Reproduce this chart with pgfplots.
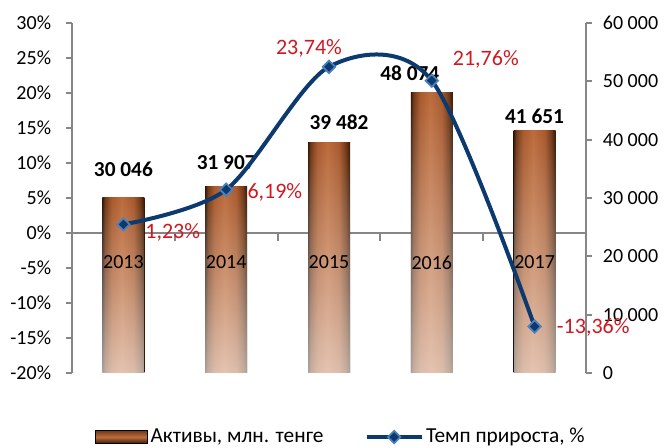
\documentclass[border=0pt]{standalone}
\usepackage{fontspec}
\setmainfont{Carlito}
\usepackage{pgfplots}
\pgfplotsset{compat=1.18}
\usepackage{pgfplotstable}
\usetikzlibrary{fadings}
\definecolor{axisgray}{RGB}{134,134,134}
\definecolor{navy}{RGB}{12,58,110}
\definecolor{mblue}{RGB}{79,129,189}
\definecolor{lblred}{RGB}{208,24,32}
\definecolor{bdk}{RGB}{50,22,8}
\definecolor{bbr}{RGB}{112,56,22}
\definecolor{bcu}{RGB}{168,90,46}
\definecolor{bcl}{RGB}{188,108,60}
\pgfdeclarehorizontalshading{barshade}{100bp}{color(0bp)=(bdk); color(25bp)=(bdk); color(28bp)=(bbr); color(36bp)=(bcu); color(48bp)=(bcl); color(62bp)=(bcu); color(70bp)=(bbr); color(75bp)=(bdk); color(100bp)=(bdk)}
\tikzfading[name=barfade, top color=transparent!100, bottom color=transparent!40]
\pgfplotsset{/pgf/number format/assume math mode=true, /pgf/number format/1000 sep={\ }}
\pgfplotsset{longline legend/.style={legend image code/.code={\draw[mark repeat=2,mark phase=2,##1] plot coordinates {(0pt,0pt) (20.5pt,0pt) (41pt,0pt)};}}}
\pgfplotsset{
  barsty/.style={ybar, bar width=31.5pt, bar shift=0pt, draw=none, shade, shading=barshade},
  barfd/.style={ybar, bar width=31.5pt, bar shift=0pt, draw=none, fill=white, path fading=barfade},
  barlbl/.style 2 args={nodes near coords={\pgfmathprintnumber{\pgfplotspointmeta}},
    every node near coord/.append style={font=\fontsize{16}{19}\selectfont\bfseries, anchor=center, xshift=#1, yshift=#2, text=black}},
}

\pgfplotstableread{
x y lab dx dy
0 1.23 {1,23\%} 37 -6
1 6.19 {6,19\%} 36.5 -2.25
2 23.74 {23,74\%} -15 13.5
3 21.76 {21,76\%} 40.5 15.75
4 -13.36 {-13,36\%} 44 -0.75
}\rate

\begin{document}
\fontsize{15}{18}\selectfont
\begin{tikzpicture}
\path[use as bounding box] (-54pt,-56.25pt) rectangle (446.25pt,279.75pt);
\begin{axis}[
  at={(0pt,0pt)}, anchor=south west,
  scale only axis, width=385.5pt, height=262.5pt,
  xmin=-0.5, xmax=4.5, ymin=0, ymax=60000,
  axis x line=none, axis y line*=right,
  y axis line style={-, draw=axisgray, line width=1.5pt},
  ytick={0,10000,...,60000}, scaled y ticks=false,
  tick align=outside, major tick length=4.5pt,
  ytick style={draw=axisgray, line width=1.5pt},
  yticklabel style={xshift=3pt},
  extra y ticks={24000}, extra y tick labels={},
  extra y tick style={grid=major, major tick length=0pt, major grid style={draw=axisgray, line width=1.5pt}},
  clip=false,
]
\addplot[barsty, barlbl={0pt}{21pt}] coordinates {(0,30046)};
\addplot[barfd] coordinates {(0,30046)};
\addplot[barsty, barlbl={0pt}{18pt}] coordinates {(1,31907)};
\addplot[barfd] coordinates {(1,31907)};
\addplot[barsty, barlbl={7.5pt}{15pt}] coordinates {(2,39482)};
\addplot[barfd] coordinates {(2,39482)};
\addplot[barsty, barlbl={-16.5pt}{14.25pt}] coordinates {(3,48074)};
\addplot[barfd] coordinates {(3,48074)};
\addplot[barsty, barlbl={0pt}{10.5pt}] coordinates {(4,41651)};
\addplot[barfd] coordinates {(4,41651)};
\end{axis}
\begin{axis}[
  at={(0pt,0pt)}, anchor=south west,
  scale only axis, width=385.5pt, height=262.5pt,
  xmin=-0.5, xmax=4.5, ymin=-20, ymax=30,
  axis y line=left, axis x line=middle,
  x axis line style={draw=none},
  y axis line style={-, draw=axisgray, line width=1.5pt},
  ytick={-20,-15,...,30},
  yticklabel={\pgfmathprintnumber{\tick}\%},
  yticklabel style={xshift=-6pt},
  hide obscured x ticks=false, hide obscured y ticks=false,
  xtick={0,1,2,3,4}, xticklabels={2013,2014,2015,2016,2017},
  xticklabel style={yshift=-7.5pt},
  minor xtick={0.5,1.5,2.5,3.5},
  every major x tick/.append style={draw=none},
  every minor x tick/.append style={draw=axisgray, line width=1.5pt},
  minor tick length=6pt,
  tick align=outside, major tick length=4.5pt,
  ytick style={draw=axisgray, line width=1.5pt},
  clip=false,
  legend columns=2,
  legend style={at={(axis description cs:0.524,-0.183)}, anchor=center, draw=none, fill=none,
    font=\fontsize{16}{19}\selectfont,
    /tikz/every even column/.append style={column sep=29pt}},
  legend cell align=left,
]
\addlegendimage{legend image code/.code={\shade[top color=bbr, bottom color=bdk, middle color=bcl] (0pt,-5pt) rectangle (39pt,5pt);}}
\addlegendentry{Активы, млн. тенге}
\addplot[color=navy, line width=3pt, smooth, tension=0.5,
  mark=square*, mark size=3.3pt,
  mark options={rotate=45, fill=navy, draw=mblue, line width=1.3pt, solid},
  longline legend,
  nodes near coords, point meta=explicit symbolic,
  visualization depends on={\thisrow{dx}\as\ldx},
  visualization depends on={\thisrow{dy}\as\ldy},
  every node near coord/.append style={font=\fontsize{16.5}{20}\selectfont, anchor=center, xshift=\ldx pt, yshift=\ldy pt, text=lblred}
] table[x=x, y=y, meta=lab] {\rate};
\addlegendentry{Темп прироста, \%}
\end{axis}
\end{tikzpicture}
\end{document}
